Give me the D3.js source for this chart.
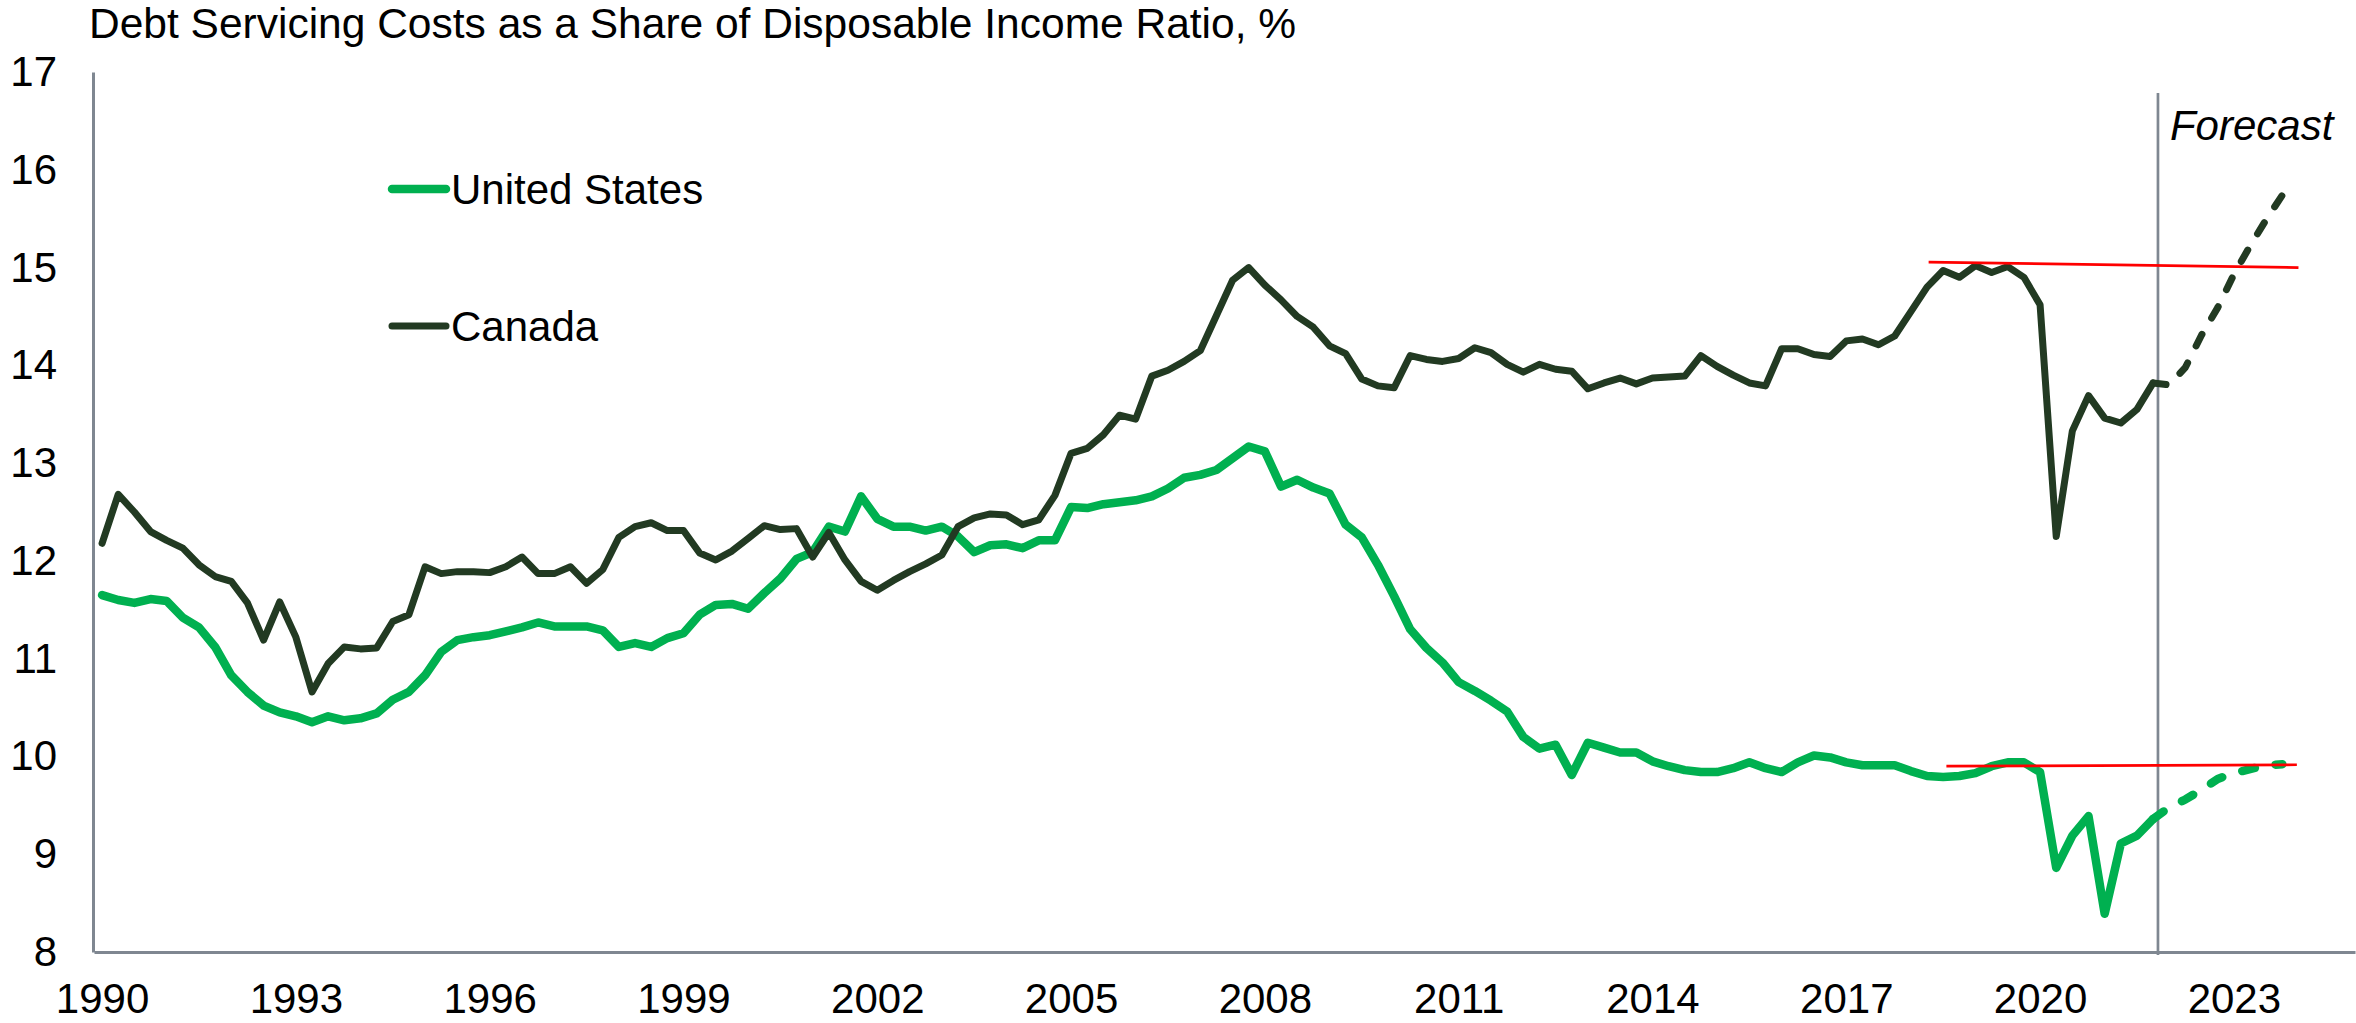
<!DOCTYPE html>
<html>
<head>
<meta charset="utf-8">
<script src="https://cdn.jsdelivr.net/npm/d3@7"></script>
<style>
  body { margin: 0; background: #fff; }
  svg { display: block; font-family: "Liberation Sans", Arial, sans-serif; }
</style>
</head>
<body>
<div id="chart"></div>
<script>
// Quarterly data, 1990Q1 .. 2023Q4 (last 8 quarters are forecast)
const startYear = 1990;
const tickYears = [1990, 1993, 1996, 1999, 2002, 2005, 2008, 2011, 2014, 2017, 2020, 2023];
const yTicks = [8, 9, 10, 11, 12, 13, 14, 15, 16, 17];

const usActual = [
  11.65, 11.60, 11.57, 11.61, 11.59, 11.42, 11.32, 11.12, 10.83, 10.66,
  10.52, 10.45, 10.41, 10.35, 10.41, 10.37, 10.39, 10.44, 10.58, 10.66,
  10.83, 11.07, 11.19, 11.22, 11.24, 11.28, 11.32, 11.37, 11.33, 11.33,
  11.33, 11.29, 11.12, 11.16, 11.12, 11.21, 11.26, 11.45, 11.55, 11.56,
  11.51, 11.67, 11.82, 12.02, 12.09, 12.35, 12.30, 12.66, 12.43, 12.35,
  12.35, 12.31, 12.35, 12.25, 12.09, 12.16, 12.17, 12.13, 12.21, 12.21,
  12.55, 12.54, 12.58, 12.60, 12.62, 12.66, 12.74, 12.85, 12.88, 12.93,
  13.05, 13.17, 13.12, 12.76, 12.83, 12.75, 12.69, 12.37, 12.24, 11.96,
  11.64, 11.30, 11.11, 10.96, 10.76, 10.67, 10.57, 10.46, 10.20, 10.08,
  10.12, 9.81, 10.14, 10.09, 10.04, 10.04, 9.95, 9.90, 9.86, 9.84,
  9.84, 9.88, 9.94, 9.88, 9.84, 9.94, 10.01, 9.99, 9.94, 9.91,
  9.91, 9.91, 9.85, 9.80, 9.79, 9.80, 9.83, 9.90, 9.94, 9.94,
  9.84, 8.86, 9.19, 9.39, 8.39, 9.11, 9.19, 9.36
];
const usForecast = [9.36, 9.48, 9.56, 9.66, 9.77, 9.83, 9.87, 9.91, 9.92];

const caActual = [
  12.18, 12.68, 12.50, 12.30, 12.21, 12.13, 11.96, 11.84, 11.79, 11.57,
  11.19, 11.58, 11.22, 10.66, 10.95, 11.12, 11.10, 11.11, 11.38, 11.45,
  11.94, 11.87, 11.89, 11.89, 11.88, 11.94, 12.04, 11.87, 11.87, 11.94,
  11.77, 11.91, 12.24, 12.35, 12.39, 12.31, 12.31, 12.08, 12.01, 12.10,
  12.23, 12.36, 12.32, 12.33, 12.04, 12.29, 12.01, 11.79, 11.70, 11.80,
  11.89, 11.97, 12.06, 12.35, 12.44, 12.48, 12.47, 12.37, 12.42, 12.67,
  13.10, 13.15, 13.29, 13.49, 13.45, 13.89, 13.95, 14.04, 14.15, 14.51,
  14.87, 15.00, 14.82, 14.67, 14.50, 14.39, 14.20, 14.12, 13.86, 13.79,
  13.77, 14.10, 14.06, 14.04, 14.07, 14.18, 14.13, 14.01, 13.93, 14.01,
  13.96, 13.94, 13.76, 13.82, 13.87, 13.81, 13.87, 13.88, 13.89, 14.10,
  13.99, 13.90, 13.82, 13.79, 14.17, 14.17, 14.11, 14.09, 14.25, 14.27,
  14.21, 14.30, 14.55, 14.80, 14.97, 14.90, 15.02, 14.95, 15.01, 14.90,
  14.62, 12.25, 13.33, 13.69, 13.46, 13.41, 13.55, 13.82
];
const caForecast = [13.82, 13.80, 13.98, 14.31, 14.59, 14.93, 15.22, 15.49, 15.74];

// pre-pandemic peak reference lines, [quarter index, value]
const caPeakLine = [[113.1, 15.055], [136.0, 15.0]];
const usPeakLine = [[114.2, 9.90], [135.9, 9.915]];
const forecastAt = 127.3;

const nQuarters = 140;
const categories = d3.range(nQuarters).map((i) => `${startYear + Math.floor(i / 4)}Q${(i % 4) + 1}`);

const width = 2356;
const height = 1023;
const left = 94;
const qWidth = 16.15;

const svg = d3.select("#chart")
  .append("svg")
  .attr("width", width)
  .attr("height", height);

const x = d3.scaleLinear()
  .domain([-0.5, nQuarters - 0.5])
  .range([left, left + nQuarters * qWidth]);

const y = d3.scaleLinear()
  .domain([8, 17])
  .range([952, 72]);

const axisColor = "#7f8791";

// x axis
const xAxis = svg.append("g")
  .attr("transform", `translate(0,${y(8)})`)
  .call(d3.axisBottom(x)
    .tickValues(tickYears.map((yr) => categories.indexOf(`${yr}Q1`)))
    .tickFormat((i) => categories[i].slice(0, 4))
    .tickSize(0)
    .tickSizeOuter(0)
    .tickPadding(31));
xAxis.select(".domain").attr("stroke", axisColor).attr("stroke-width", 3);
xAxis.selectAll("text").attr("font-size", 42).attr("fill", "#000");

// y axis
const yAxis = svg.append("g")
  .attr("transform", `translate(${left - 1},0)`)
  .call(d3.axisLeft(y)
    .tickValues(yTicks)
    .tickFormat(d3.format("d"))
    .tickSize(0)
    .tickSizeOuter(0)
    .tickPadding(36));
yAxis.select(".domain").attr("stroke", axisColor).attr("stroke-width", 3);
yAxis.selectAll("text").attr("font-size", 42).attr("fill", "#000");

// forecast divider
svg.append("line")
  .attr("x1", x(forecastAt)).attr("x2", x(forecastAt))
  .attr("y1", 93).attr("y2", y(8) + 3)
  .attr("stroke", axisColor)
  .attr("stroke-width", 2.7);

svg.append("text")
  .attr("x", x(forecastAt) + 12)
  .attr("y", 140)
  .attr("font-size", 42)
  .attr("font-style", "italic")
  .text("Forecast");

// series
const line = d3.line()
  .x((d) => x(d[0]))
  .y((d) => y(d[1]));

const usGreen = "#00b050";
const caDark = "#223a22";

const series = [
  { values: usActual, offset: 0, color: usGreen, w: 8.5, dash: null },
  { values: usForecast, offset: usActual.length - 1, color: usGreen, w: 8.5, dash: "13,21" },
  { values: caActual, offset: 0, color: caDark, w: 7, dash: null },
  { values: caForecast, offset: caActual.length - 1, color: caDark, w: 7, dash: "13,19" }
];

series.forEach((s) => {
  svg.append("path")
    .datum(s.values.map((v, i) => [i + s.offset, v]))
    .attr("fill", "none")
    .attr("stroke", s.color)
    .attr("stroke-width", s.w)
    .attr("stroke-linejoin", "round")
    .attr("stroke-linecap", "round")
    .attr("stroke-dasharray", s.dash)
    .attr("d", line);
});

// red reference lines
[caPeakLine, usPeakLine].forEach((pts) => {
  svg.append("path")
    .datum(pts)
    .attr("fill", "none")
    .attr("stroke", "#ff0000")
    .attr("stroke-width", 2.7)
    .attr("d", line);
});

// legend
const legend = [
  { name: "United States", color: usGreen, w: 8.5, cy: 189 },
  { name: "Canada", color: caDark, w: 7, cy: 326 }
];
legend.forEach((l) => {
  svg.append("line")
    .attr("x1", 392).attr("x2", 446)
    .attr("y1", l.cy).attr("y2", l.cy)
    .attr("stroke", l.color)
    .attr("stroke-width", l.w)
    .attr("stroke-linecap", "round");
  svg.append("text")
    .attr("x", 451)
    .attr("y", l.cy + 15)
    .attr("font-size", 42)
    .text(l.name);
});

// title
svg.append("text")
  .attr("x", 89)
  .attr("y", 38)
  .attr("font-size", 42.5)
  .text("Debt Servicing Costs as a Share of Disposable Income Ratio, %");
</script>
</body>
</html>
